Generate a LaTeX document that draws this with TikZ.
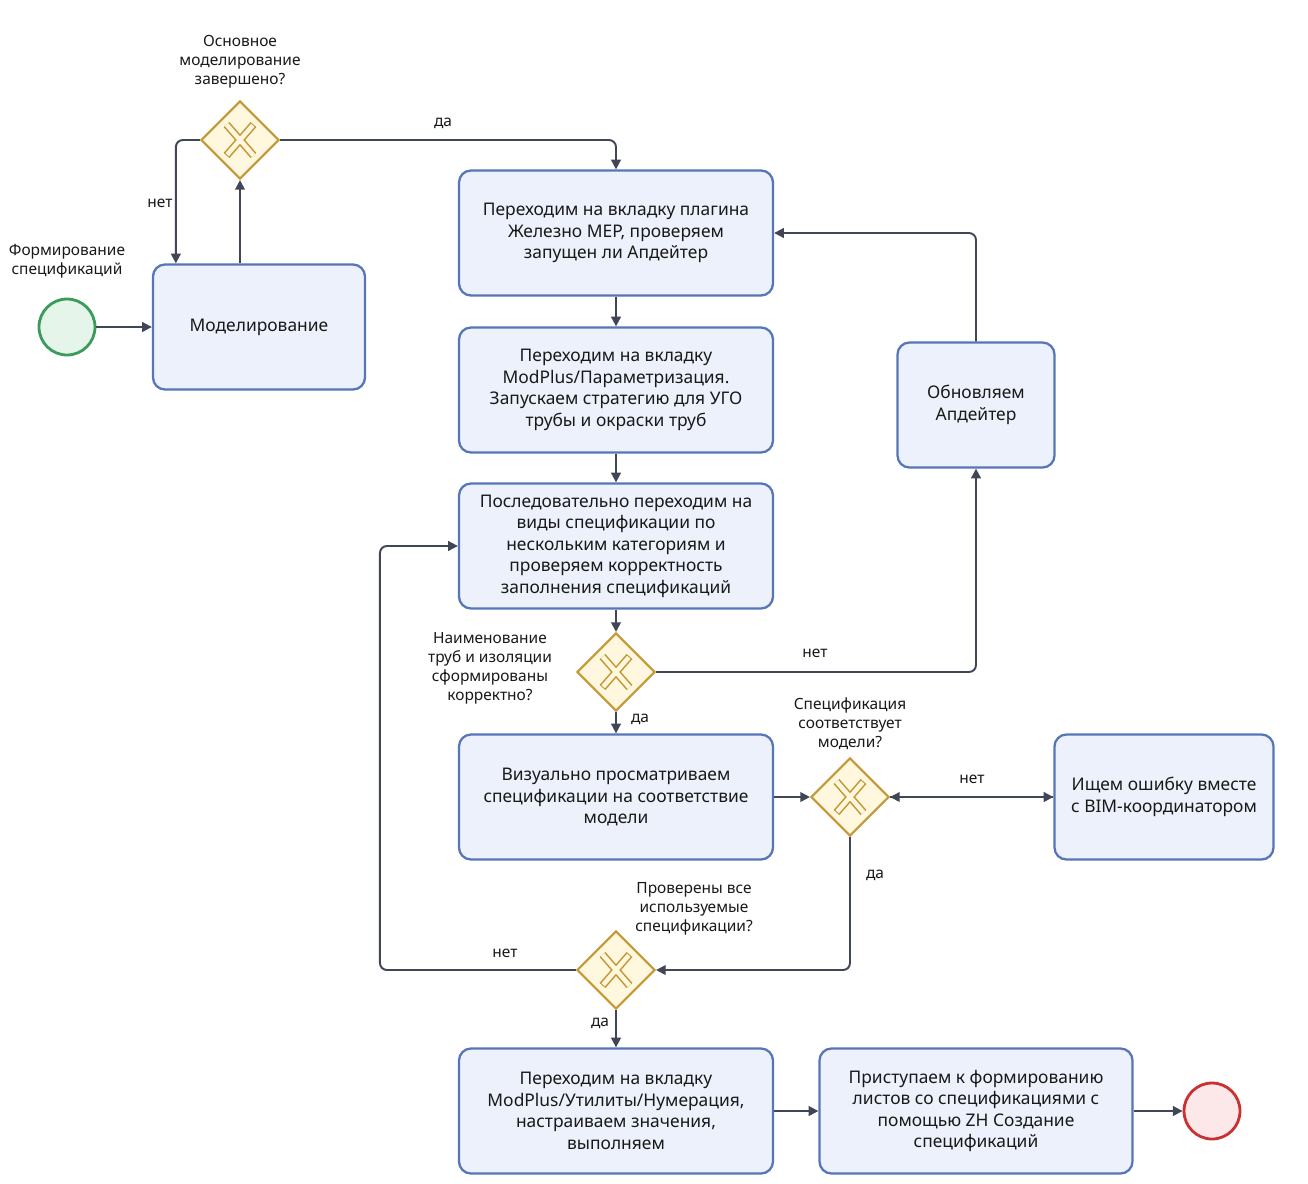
\documentclass[tikz,border=0pt]{standalone}
\usepackage{fontspec}
\setmainfont{Noto Sans}
\usepackage{tikz}
\usetikzlibrary{positioning,arrows.meta,shapes.geometric,calc}
\definecolor{taskfill}{RGB}{236,241,251}
\definecolor{taskline}{RGB}{86,118,184}
\definecolor{gatefill}{RGB}{255,247,222}
\definecolor{gateline}{RGB}{196,152,52}
\definecolor{flowline}{RGB}{64,70,86}
\definecolor{startfill}{RGB}{230,245,234}
\definecolor{startline}{RGB}{58,156,90}
\definecolor{endfill}{RGB}{252,232,232}
\definecolor{endline}{RGB}{200,50,50}
\definecolor{txt}{RGB}{25,25,25}

\tikzset{
  task/.style={draw=taskline, fill=taskfill, line width=1.3pt, rounded corners=0.24cm,
    minimum width=6.28cm, minimum height=2.5cm, align=center, text=txt,
    font=\fontsize{9.9}{12.2}\selectfont},
  gate/.style={diamond, draw=gateline, fill=gatefill, line width=1.2pt,
    minimum width=1.56cm, minimum height=1.56cm, inner sep=0pt},
  event/.style={circle, line width=1.6pt, minimum size=1.12cm, inner sep=0pt},
  note/.style={align=center, text=txt, font=\fontsize{8.8}{10.8}\selectfont},
  flow/.style={draw=flowline, line width=1.1pt, rounded corners=4pt,
    -{Triangle[length=5.5pt,width=5.5pt]}},
}

% X-marker inside an exclusive gateway
\newcommand{\gatecross}[1]{
  \draw[gateline, line width=4.4pt] ($(#1)+(-0.27,0.31)$) -- ($(#1)+(0.27,-0.31)$)
    ($(#1)+(0.27,0.31)$) -- ($(#1)+(-0.27,-0.31)$);
  \draw[gatefill, line width=2.6pt, shorten <=0.6pt, shorten >=0.6pt]
    ($(#1)+(-0.27,0.31)$) -- ($(#1)+(0.27,-0.31)$)
    ($(#1)+(0.27,0.31)$) -- ($(#1)+(-0.27,-0.31)$);
}

\begin{document}
\begin{tikzpicture}[scale=1]

    \useasboundingbox[fill=white] (0,0) rectangle (26.16,-23.66);

    % Start and modelling
    \node[event, draw=startline, fill=startfill] (start) at (1.34,-6.54) {};
    \node[note] (startlbl) at (1.34,-5.22) {Формирование\\спецификаций};
    \node[task, minimum width=4.24cm] (model) at (5.18,-6.54) {Моделирование};

    \node[gate] (gwmain) at (4.8,-2.8) {};
    \gatecross{gwmain}
    \node[note] (gwmainlbl) at (4.8,-1.24) {Основное\\моделирование\\завершено?};

    % Main column
    \node[task] (plugin) at (12.32,-4.66) {Переходим на вкладку плагина\\Железно MEP, проверяем\\запущен ли Апдейтер};
    \node[task] (modplus) at (12.32,-7.8) {Переходим на вкладку\\ModPlus/Параметризация.\\Запускаем стратегию для УГО\\трубы и окраски труб};
    \node[task] (views) at (12.32,-10.92) {Последовательно переходим на\\виды спецификации по\\нескольким категориям и\\проверяем корректность\\заполнения спецификаций};

    \node[gate] (gwnames) at (12.32,-13.44) {};
    \gatecross{gwnames}
    \node[note] (gwnameslbl) at (9.8,-13.36) {Наименование\\труб и изоляции\\сформированы\\корректно?};

    \node[task, minimum width=3.14cm] (updater) at (19.52,-8.1) {Обновляем\\Апдейтер};

    \node[task] (visual) at (12.32,-15.94) {Визуально просматриваем\\спецификации на соответствие\\модели};

    \node[gate] (gwspec) at (17.0,-15.94) {};
    \gatecross{gwspec}
    \node[note] (gwspeclbl) at (17.0,-14.48) {Спецификация\\соответствует\\модели?};

    \node[task, minimum width=4.38cm] (bimerr) at (23.28,-15.94) {Ищем ошибку вместе\\с BIM-координатором};

    \node[gate] (gwall) at (12.32,-19.4) {};
    \gatecross{gwall}
    \node[note] (gwalllbl) at (13.88,-18.18) {Проверены все\\используемые\\спецификации?};

    % Final steps
    \node[task] (numbering) at (12.32,-22.22) {Переходим на вкладку\\ModPlus/Утилиты/Нумерация,\\настраиваем значения,\\выполняем};
    \node[task, minimum width=6.26cm] (sheets) at (19.52,-22.22) {Приступаем к формированию\\листов со спецификациями с\\помощью ZH Создание\\спецификаций};
    \node[event, draw=endline, fill=endfill] (finish) at (24.24,-22.22) {};

    % Flows
    \draw[flow] (start) -- (model);
    \draw[flow] (gwmain.south |- model.north) -- (gwmain.south);
    \draw[flow] (gwmain.west) -| ([xshift=0.48cm]model.north west);
    \draw[flow] (gwmain.east) -| (plugin.north);
    \draw[flow] (plugin) -- (modplus);
    \draw[flow] (modplus) -- (views);
    \draw[flow] (views) -- (gwnames);
    \draw[flow] (gwnames.east) -| (updater.south);
    \draw[flow] (updater.north) |- (plugin.east);
    \draw[flow] (gwnames) -- (visual);
    \draw[flow] (visual) -- (gwspec);
    \draw[flow] (gwspec.east) -- (bimerr.west);
    \draw[flow] (bimerr.west) -- (gwspec.east);
    \draw[flow] (gwspec.south) |- (gwall.east);
    \draw[flow] (gwall.west) -- ++(-3.92,0) |- (views.west);
    \draw[flow] (gwall) -- (numbering);
    \draw[flow] (numbering) -- (sheets);
    \draw[flow] (sheets) -- (finish);

    % Flow labels
    \node[note] (yesmain) at (8.86,-2.46) {да};
    \node[note] (nomain) at (3.2,-4.06) {нет};
    \node[note] (nonames) at (16.3,-13.06) {нет};
    \node[note] (yesnames) at (12.8,-14.38) {да};
    \node[note] (nospec) at (19.44,-15.58) {нет};
    \node[note] (yesspec) at (17.5,-17.5) {да};
    \node[note] (noall) at (10.1,-19.06) {нет};
    \node[note] (yesall) at (12.0,-20.46) {да};

\end{tikzpicture}
\end{document}
